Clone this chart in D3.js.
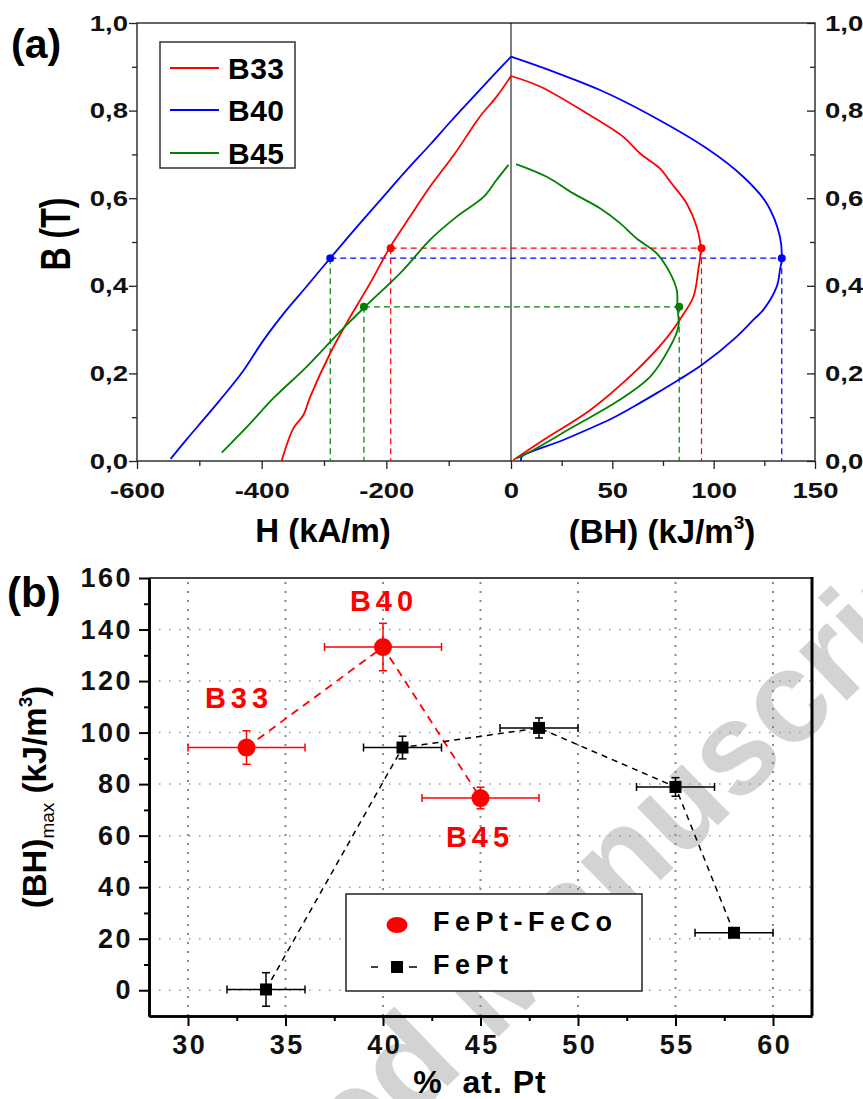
<!DOCTYPE html>
<html>
<head>
<meta charset="utf-8">
<script src="https://cdn.jsdelivr.net/npm/d3@7"></script>
<style>
  body { margin: 0; background: #fff; }
  svg { display: block; font-family: "Liberation Sans", Arial, sans-serif; font-weight: bold; }
</style>
</head>
<body>
<div id="vis"></div>
<script>
//###############################################################
// Data
//###############################################################

// (a) demagnetisation curves B (T) vs H (kA/m)
const B33_H  = [-368, -349, -333, -322, -290, -264, -226, -195, -162, -130, -90, -50, -23, 0];
const B33_HB = [0.000, 0.075, 0.105, 0.147, 0.246, 0.314, 0.406, 0.486, 0.558, 0.626, 0.702, 0.786, 0.832, 0.879];
const B40_H  = [-546, -520, -490, -467, -430, -397, -360, -330, -306, -290, -250, -210, -170, -130, -95, -60, -30, 0];
const B40_HB = [0.005, 0.050, 0.100, 0.139, 0.205, 0.276, 0.345, 0.395, 0.436, 0.463, 0.530, 0.595, 0.660, 0.722, 0.778, 0.832, 0.878, 0.923];
const B45_H  = [-464, -421, -380, -330, -290, -264, -235, -173, -130, -87, -44, -23, -4];
const B45_HB = [0.019, 0.082, 0.145, 0.212, 0.272, 0.310, 0.351, 0.436, 0.505, 0.558, 0.603, 0.642, 0.676];

// (a) energy product curves B (T) vs (BH) (kJ/m3)
const B33_BH  = [0, 14.3, 37.3, 55.4, 63.7, 73.5, 78.5, 86.7, 91.6, 93.6, 92.4, 90.0, 84.2, 75.2, 58.7, 39.0, 16.0, 1.1];
const B33_BHB = [0.879, 0.855, 0.794, 0.740, 0.702, 0.668, 0.638, 0.588, 0.535, 0.486, 0.436, 0.375, 0.329, 0.272, 0.193, 0.116, 0.048, 0.002];
const B40_BH  = [0, 20.9, 43.9, 67.0, 96.5, 114.6, 126.2, 132.7, 133.6, 132.7, 131.1, 124.5, 120.4, 111.4, 94.1, 82.6, 71.9, 60.4, 49.7, 25.8, 5.3, 5.0];
const B40_BHB = [0.923, 0.889, 0.847, 0.794, 0.714, 0.649, 0.588, 0.512, 0.463, 0.436, 0.398, 0.345, 0.326, 0.284, 0.219, 0.185, 0.155, 0.124, 0.097, 0.048, 0.010, 0.000];
const B45_BH  = [2.5, 17.6, 30.7, 43.9, 53.8, 62.0, 71.9, 78.5, 81.8, 82.1, 82.6, 78.5, 68.6, 52.1, 30.7, 9.4, 2.8];
const B45_BHB = [0.678, 0.649, 0.611, 0.577, 0.543, 0.508, 0.474, 0.429, 0.390, 0.352, 0.307, 0.261, 0.192, 0.135, 0.078, 0.021, 0.006];

// (a) (BH)max operating points
const SAMPLES   = ["B33", "B40", "B45"];
const B_AT_MAX  = [0.486, 0.463, 0.352];
const H_AT_MAX  = [-193, -290, -236];
const BH_MAX_A  = [94, 133.6, 83];

// (a) ticks
const A_Y_TICKS  = [0, 0.2, 0.4, 0.6, 0.8, 1.0];
const A_Y_MINOR  = [0.1, 0.3, 0.5, 0.7, 0.9];
const A_H_TICKS  = [-600, -400, -200];
const A_H_MINOR  = [-500, -300, -100];
const A_BH_TICKS = [0, 50, 100, 150];
const A_BH_MINOR = [25, 75, 125];

// (b) (BH)max vs % at. Pt
const FECO_PT   = [33, 40, 45];
const FECO_BH   = [94.2, 133.2, 74.6];
const FECO_XERR = [3, 3, 3];
const FECO_YERR = [6.5, 9.2, 4.2];
const FEPT_PT   = [34, 41, 48, 55, 58];
const FEPT_BH   = [0.3, 94.2, 101.8, 78.9, 22.3];
const FEPT_XERR = [2, 2, 2, 2, 2];
const FEPT_YERR = [6.5, 4.4, 3.9, 3.6, 1.5];

// (b) ticks
const B_X_TICKS = [30, 35, 40, 45, 50, 55, 60];
const B_X_MINOR = [32.5, 37.5, 42.5, 47.5, 52.5, 57.5];
const B_Y_TICKS = [0, 20, 40, 60, 80, 100, 120, 140, 160];
const B_Y_MINOR = [10, 30, 50, 70, 90, 110, 130, 150];
const B_GRID_Y  = [0, 20, 40, 60, 80, 100, 120, 140];

//###############################################################
// Frame
//###############################################################
const FRAME_WIDTH = 863;
const FRAME_HEIGHT = 1099;
const COLORS = {B33: "#ff0000", B40: "#0000ff", B45: "#008000"};
const GUIDE_LEFT_COLORS = ["#ff0000", "#008000", "#008000"]; // B40's left drop line is green in the original

const FRAME = d3.select("#vis")
                .append("svg")
                  .attr("width", FRAME_WIDTH)
                  .attr("height", FRAME_HEIGHT);

// watermark, behind everything
FRAME.append("text")
  .attr("transform", "translate(518,1018) rotate(-44)")
  .attr("text-anchor", "middle")
  .attr("font-size", 130)
  .attr("fill", "#d3d3d3")
  .text("Accepted Manuscript");

//###############################################################
// Panel (a)
//###############################################################
const PA = {left: 137, zero: 511, right: 815, top: 23, bottom: 461};

const X_H  = d3.scaleLinear().domain([-600, 0]).range([PA.left, PA.zero]);
const X_BH = d3.scaleLinear().domain([0, 150]).range([PA.zero, PA.right]);
const Y_B  = d3.scaleLinear().domain([0, 1]).range([PA.bottom, PA.top]);

function build_panel_a() {
  const G = FRAME.append("g");

  G.append("rect")
    .attr("x", PA.left).attr("y", PA.top)
    .attr("width", PA.right - PA.left).attr("height", PA.bottom - PA.top)
    .attr("fill", "none").attr("stroke", "#333").attr("stroke-width", 1.5);

  G.append("line")
    .attr("x1", X_H(0)).attr("x2", X_H(0))
    .attr("y1", Y_B(0)).attr("y2", Y_B(1))
    .attr("stroke", "#000").attr("stroke-width", 1);

  const leftData  = {B33: d3.zip(B33_H, B33_HB), B40: d3.zip(B40_H, B40_HB), B45: d3.zip(B45_H, B45_HB)};
  const rightData = {B33: d3.zip(B33_BH, B33_BHB), B40: d3.zip(B40_BH, B40_BHB), B45: d3.zip(B45_BH, B45_BHB)};

  const leftLine  = d3.line().curve(d3.curveCatmullRom.alpha(0.5))
                      .x(d => X_H(d[0])).y(d => Y_B(d[1]));
  const rightLine = d3.line().curve(d3.curveCatmullRom.alpha(0.5))
                      .x(d => X_BH(d[0])).y(d => Y_B(d[1]));

  // dashed guides to (BH)max
  SAMPLES.forEach((s, i) => {
    const dash = G.append("g").attr("fill", "none").attr("stroke-width", 1.2)
                  .attr("stroke-dasharray", "6,4");
    dash.append("line")
      .attr("x1", X_H(H_AT_MAX[i])).attr("x2", X_BH(BH_MAX_A[i]))
      .attr("y1", Y_B(B_AT_MAX[i])).attr("y2", Y_B(B_AT_MAX[i]))
      .attr("stroke", COLORS[s]);
    dash.append("line")
      .attr("x1", X_H(H_AT_MAX[i])).attr("x2", X_H(H_AT_MAX[i]))
      .attr("y1", Y_B(B_AT_MAX[i])).attr("y2", Y_B(0))
      .attr("stroke", GUIDE_LEFT_COLORS[i]);
    dash.append("line")
      .attr("x1", X_BH(BH_MAX_A[i])).attr("x2", X_BH(BH_MAX_A[i]))
      .attr("y1", Y_B(B_AT_MAX[i])).attr("y2", Y_B(0))
      .attr("stroke", COLORS[s]);
  });

  SAMPLES.forEach((s) => {
    G.append("path").attr("d", leftLine(leftData[s]))
      .attr("fill", "none").attr("stroke", COLORS[s]).attr("stroke-width", 1.8);
    G.append("path").attr("d", rightLine(rightData[s]))
      .attr("fill", "none").attr("stroke", COLORS[s]).attr("stroke-width", 1.8);
  });

  SAMPLES.forEach((s, i) => {
    G.append("circle").attr("cx", X_H(H_AT_MAX[i])).attr("cy", Y_B(B_AT_MAX[i]))
      .attr("r", 4).attr("fill", COLORS[s]);
    G.append("circle").attr("cx", X_BH(BH_MAX_A[i])).attr("cy", Y_B(B_AT_MAX[i]))
      .attr("r", 4).attr("fill", COLORS[s]);
  });

  const fmt = (d) => d3.format(".1f")(d).replace(".", ",");
  const styleAxis = (g, size) => {
    g.select(".domain").remove();
    g.selectAll("line").attr("stroke", "#222").attr("stroke-width", 1.3);
    g.selectAll("text").attr("font-size", size).attr("font-family", null)
      .attr("font-weight", "bold").attr("fill", "#111");
  };
  const SX = 1.25;

  // left axis
  const yl = G.append("g").attr("transform", `translate(${PA.left},0)`)
    .call(d3.axisLeft(Y_B).tickValues(A_Y_TICKS).tickSize(8).tickFormat(fmt));
  styleAxis(yl, 22);
  yl.selectAll("text").attr("x", -9 / SX).attr("transform", `scale(${SX},1)`);
  const ylm = G.append("g").attr("transform", `translate(${PA.left},0)`)
    .call(d3.axisLeft(Y_B).tickValues(A_Y_MINOR).tickSize(5).tickFormat(""));
  styleAxis(ylm, 22);

  // right axis, ticks inward
  const yr = G.append("g").attr("transform", `translate(${PA.right},0)`)
    .call(d3.axisRight(Y_B).tickValues(A_Y_TICKS).tickSize(-8).tickFormat(fmt));
  styleAxis(yr, 22);
  yr.selectAll("text").attr("x", 10 / SX).attr("transform", `scale(${SX},1)`);
  const yrm = G.append("g").attr("transform", `translate(${PA.right},0)`)
    .call(d3.axisRight(Y_B).tickValues(A_Y_MINOR).tickSize(-5).tickFormat(""));
  styleAxis(yrm, 22);

  // bottom axes (H left, BH right)
  const xh = G.append("g").attr("transform", `translate(0,${PA.bottom})`)
    .call(d3.axisBottom(X_H).tickValues(A_H_TICKS).tickSize(8).tickPadding(13).tickFormat(d => String(d)));
  styleAxis(xh, 22);
  xh.selectAll("text").attr("transform", `scale(${SX},1)`);
  const xhm = G.append("g").attr("transform", `translate(0,${PA.bottom})`)
    .call(d3.axisBottom(X_H).tickValues(A_H_MINOR).tickSize(5).tickFormat(""));
  styleAxis(xhm, 22);
  const xb = G.append("g").attr("transform", `translate(0,${PA.bottom})`)
    .call(d3.axisBottom(X_BH).tickValues(A_BH_TICKS).tickSize(8).tickPadding(13).tickFormat(d => String(d)));
  styleAxis(xb, 22);
  xb.selectAll("text").attr("transform", `scale(${SX},1)`);
  const xbm = G.append("g").attr("transform", `translate(0,${PA.bottom})`)
    .call(d3.axisBottom(X_BH).tickValues(A_BH_MINOR).tickSize(5).tickFormat(""));
  styleAxis(xbm, 22);

  // titles
  G.append("text").attr("x", 323).attr("y", 542).attr("text-anchor", "middle")
    .attr("font-size", 33).text("H (kA/m)");
  const t2 = G.append("text").attr("x", 662).attr("y", 543).attr("text-anchor", "middle")
    .attr("font-size", 33);
  t2.append("tspan").text("(BH) (kJ/m");
  t2.append("tspan").attr("font-size", 19).attr("dy", -14).text("3");
  t2.append("tspan").attr("dy", 14).text(")");
  G.append("text").attr("transform", "translate(70,234) rotate(-90) scale(1,1.35)")
    .attr("text-anchor", "middle").attr("font-size", 32).text("B (T)");
  G.append("text").attr("x", 11).attr("y", 58).attr("font-size", 41).text("(a)");

  // legend
  const L = G.append("g");
  L.append("rect").attr("x", 160).attr("y", 42).attr("width", 135).attr("height", 126)
    .attr("fill", "#fff").attr("stroke", "#333").attr("stroke-width", 1.5);
  const legendY = [68, 110, 153];
  SAMPLES.forEach((s, i) => {
    L.append("line").attr("x1", 170).attr("x2", 219).attr("y1", legendY[i]).attr("y2", legendY[i])
      .attr("stroke", COLORS[s]).attr("stroke-width", 2);
    L.append("text").attr("x", 228).attr("y", legendY[i] + 10.5).attr("font-size", 30)
      .attr("letter-spacing", 0.5).text(s);
  });
}

build_panel_a();

//###############################################################
// Panel (b)
//###############################################################
const PB = {left: 149, right: 812, top: 578, bottom: 1016};

const X_PT  = d3.scaleLinear().domain([28, 62]).range([PB.left, PB.right]);
const Y_BHM = d3.scaleLinear().domain([-10, 160]).range([PB.bottom, PB.top]);

function build_panel_b() {
  const G = FRAME.append("g");

  // dotted grid
  G.selectAll(".vgrid").data(B_X_TICKS).enter().append("line")
    .attr("x1", d => X_PT(d)).attr("x2", d => X_PT(d))
    .attr("y1", PB.bottom).attr("y2", PB.top)
    .attr("stroke", "#888").attr("stroke-width", 2).attr("stroke-dasharray", "2,7");
  G.selectAll(".hgrid").data(B_GRID_Y).enter().append("line")
    .attr("x1", PB.left).attr("x2", PB.right)
    .attr("y1", d => Y_BHM(d)).attr("y2", d => Y_BHM(d))
    .attr("stroke", "#999").attr("stroke-width", 1.5).attr("stroke-dasharray", "1.5,8.5");

  const line = d3.line().x(d => X_PT(d[0])).y(d => Y_BHM(d[1]));

  G.append("path").attr("d", line(d3.zip(FECO_PT, FECO_BH)))
    .attr("fill", "none").attr("stroke", "#ff0000").attr("stroke-width", 1.8)
    .attr("stroke-dasharray", "8,6");
  G.append("path").attr("d", line(d3.zip(FEPT_PT, FEPT_BH)))
    .attr("fill", "none").attr("stroke", "#000").attr("stroke-width", 1.5)
    .attr("stroke-dasharray", "6,5");

  const errorBars = (xs, ys, xe, ye, color) => {
    const E = G.append("g").attr("stroke", color).attr("stroke-width", 1.5);
    xs.forEach((x, i) => {
      const cx = X_PT(x), cy = Y_BHM(ys[i]);
      const x0 = X_PT(x - xe[i]), x1 = X_PT(x + xe[i]);
      const y0 = Y_BHM(ys[i] - ye[i]), y1 = Y_BHM(ys[i] + ye[i]);
      E.append("line").attr("x1", x0).attr("x2", x1).attr("y1", cy).attr("y2", cy);
      E.append("line").attr("x1", x0).attr("x2", x0).attr("y1", cy - 4).attr("y2", cy + 4);
      E.append("line").attr("x1", x1).attr("x2", x1).attr("y1", cy - 4).attr("y2", cy + 4);
      E.append("line").attr("x1", cx).attr("x2", cx).attr("y1", y0).attr("y2", y1);
      E.append("line").attr("x1", cx - 4).attr("x2", cx + 4).attr("y1", y0).attr("y2", y0);
      E.append("line").attr("x1", cx - 4).attr("x2", cx + 4).attr("y1", y1).attr("y2", y1);
    });
  };
  errorBars(FECO_PT, FECO_BH, FECO_XERR, FECO_YERR, "#ff0000");
  errorBars(FEPT_PT, FEPT_BH, FEPT_XERR, FEPT_YERR, "#000");

  G.selectAll(".feco").data(d3.zip(FECO_PT, FECO_BH)).enter().append("circle")
    .attr("cx", d => X_PT(d[0])).attr("cy", d => Y_BHM(d[1]))
    .attr("r", 9).attr("fill", "#ff0000");
  G.selectAll(".fept").data(d3.zip(FEPT_PT, FEPT_BH)).enter().append("rect")
    .attr("x", d => X_PT(d[0]) - 6).attr("y", d => Y_BHM(d[1]) - 6)
    .attr("width", 12).attr("height", 12).attr("fill", "#000");

  // sample labels
  const labelPos = [[236, 708], [381, 611], [477, 847]];
  SAMPLES.forEach((s, i) => {
    G.append("text").attr("x", labelPos[i][0] + 3).attr("y", labelPos[i][1])
      .attr("text-anchor", "middle").attr("font-size", 29).attr("letter-spacing", 5)
      .attr("fill", "#ff0000").text(s);
  });

  // frame
  G.append("line").attr("x1", PB.left).attr("x2", PB.right).attr("y1", PB.top).attr("y2", PB.top)
    .attr("stroke", "#444").attr("stroke-width", 1.8);
  G.append("line").attr("x1", PB.right).attr("x2", PB.right).attr("y1", PB.top - 1).attr("y2", PB.bottom)
    .attr("stroke", "#000").attr("stroke-width", 3);

  const styleAxis = (g) => {
    g.select(".domain").attr("stroke", "#000").attr("stroke-width", 2.6);
    g.selectAll(".tick line").attr("stroke", "#000").attr("stroke-width", 2);
    g.selectAll("text").attr("font-size", 27).attr("font-family", null)
      .attr("font-weight", "bold").attr("fill", "#111").attr("letter-spacing", 2.5);
  };

  const yl = G.append("g").attr("transform", `translate(${PB.left},0)`)
    .call(d3.axisLeft(Y_BHM).tickValues(B_Y_TICKS).tickSizeInner(10).tickSizeOuter(0).tickPadding(6));
  styleAxis(yl);
  const ylm = G.append("g").attr("transform", `translate(${PB.left},0)`)
    .call(d3.axisLeft(Y_BHM).tickValues(B_Y_MINOR).tickSizeInner(5).tickSizeOuter(0).tickFormat(""));
  styleAxis(ylm);
  const xb = G.append("g").attr("transform", `translate(0,${PB.bottom})`)
    .call(d3.axisBottom(X_PT).tickValues(B_X_TICKS).tickSizeInner(10).tickSizeOuter(0).tickPadding(9));
  styleAxis(xb);
  xb.selectAll("text").attr("dx", 1.2);
  const xbm = G.append("g").attr("transform", `translate(0,${PB.bottom})`)
    .call(d3.axisBottom(X_PT).tickValues(B_X_MINOR).tickSizeInner(5).tickSizeOuter(0).tickFormat(""));
  styleAxis(xbm);

  // titles
  G.append("text").attr("x", 480).attr("y", 1093).attr("text-anchor", "middle")
    .attr("font-size", 32).attr("letter-spacing", 1).attr("xml:space", "preserve").text("%  at. Pt");
  const yt = G.append("text").attr("transform", "translate(46,797) rotate(-90)")
    .attr("text-anchor", "middle").attr("font-size", 33);
  yt.append("tspan").text("(BH)");
  yt.append("tspan").attr("font-size", 19).attr("dy", 8).attr("font-weight", "normal").text("max");
  yt.append("tspan").attr("dy", -8).text(" (kJ/m");
  yt.append("tspan").attr("font-size", 19).attr("dy", -14).text("3");
  yt.append("tspan").attr("dy", 14).text(")");
  G.append("text").attr("x", 7).attr("y", 607).attr("font-size", 42).text("(b)");

  // legend
  const L = G.append("g");
  L.append("rect").attr("x", 346).attr("y", 894).attr("width", 296).attr("height", 97)
    .attr("fill", "#fff").attr("stroke", "#222").attr("stroke-width", 1.5);
  L.append("ellipse").attr("cx", 397).attr("cy", 925).attr("rx", 10.5).attr("ry", 8).attr("fill", "#ff0000");
  L.append("line").attr("x1", 371).attr("x2", 378).attr("y1", 967).attr("y2", 967).attr("stroke", "#000").attr("stroke-width", 1.5);
  L.append("line").attr("x1", 409).attr("x2", 417).attr("y1", 967).attr("y2", 967).attr("stroke", "#000").attr("stroke-width", 1.5);
  L.append("rect").attr("x", 391).attr("y", 961).attr("width", 12).attr("height", 12).attr("fill", "#000");
  L.append("text").attr("x", 433).attr("y", 931).attr("font-size", 27).attr("letter-spacing", 5.5).text("FePt-FeCo");
  L.append("text").attr("x", 433).attr("y", 974).attr("font-size", 27).attr("letter-spacing", 5.5).text("FePt");
}

build_panel_b();
</script>
</body>
</html>
